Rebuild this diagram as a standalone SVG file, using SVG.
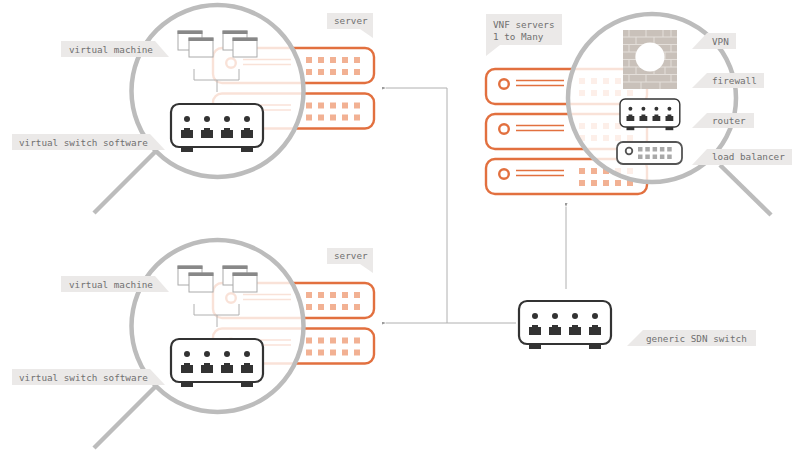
<svg xmlns="http://www.w3.org/2000/svg" width="792" height="455" viewBox="0 0 792 455">
<style>
.lbl{fill:#ebe9e8}
text{font-family:"DejaVu Sans Mono","Liberation Mono",monospace;font-size:9.3px;fill:#707070}
.lens{fill:none;stroke:#bcbcbc;stroke-width:4.5}
.veil{fill:#fff;fill-opacity:.8}
.handle{stroke:#bcbcbc;stroke-width:4.5;fill:none}
.conn{stroke:#b0b0b0;stroke-width:1;fill:none}
.srv{fill:#fff;stroke:#e2703f;stroke-width:2.4}
.sq{fill:#f2b193}
.or{stroke:#e2703f;stroke-width:1.6;fill:none}
.or2{stroke:#e2703f;stroke-width:2.4;fill:#fff}
.win{fill:#fff;stroke:#aaa;stroke-width:1}
.bar{fill:#888}
.sw{fill:#fff;stroke:#333;stroke-width:2.2}
.blk{fill:#333}
</style>
<defs>
<marker id="ah" markerUnits="userSpaceOnUse" markerWidth="4" markerHeight="3" refX="0" refY="1.500" orient="auto"><path d="M4 0L0 1.500L4 3Z" fill="#999"/></marker>
<g id="server">
<rect class="srv" width="161" height="35" rx="9"/>
<circle class="or2" cx="18" cy="15" r="4.800"/>
<path class="or" d="M30 11.500H78M30 16.500H78"/>
<g class="sq"><rect x="93" y="9" width="6" height="6"/><rect x="105" y="9" width="6" height="6"/><rect x="117" y="9" width="6" height="6"/><rect x="129" y="9" width="6" height="6"/><rect x="141" y="9" width="6" height="6"/><rect x="93" y="21" width="6" height="6"/><rect x="105" y="21" width="6" height="6"/><rect x="117" y="21" width="6" height="6"/><rect x="129" y="21" width="6" height="6"/><rect x="141" y="21" width="6" height="6"/></g>
</g>
<g id="switch">
<rect class="blk" x="10" y="40" width="12" height="8"/><rect class="blk" x="70" y="40" width="12" height="8"/>
<rect class="sw" width="92" height="43" rx="8"/>
<g class="blk"><circle cx="16" cy="15" r="3"/><circle cx="36" cy="15" r="3"/><circle cx="56" cy="15" r="3"/><circle cx="76" cy="15" r="3"/>
<path d="M10 26H13V24H19V26H22V34H10Z"/><path d="M30 26H33V24H39V26H42V34H30Z"/><path d="M50 26H53V24H59V26H62V34H50Z"/><path d="M70 26H73V24H79V26H82V34H70Z"/></g>
</g>
<g id="win">
<rect class="win" width="24" height="19"/><rect class="bar" x="-.5" y="-.5" width="25" height="3.500"/>
</g>
<g id="vms">
<use href="#win" x="178" y="31"/><use href="#win" x="189" y="38"/><use href="#win" x="223" y="31"/><use href="#win" x="233" y="38"/>
<path class="conn" d="M194 69V80H239V69M217 80V92"/>
</g>
</defs>

<g id="connectors">
<path class="conn" d="M447 88H386" marker-end="url(#ah)"/>
<path class="conn" d="M447 88V323"/>
<path class="conn" d="M516 323H386" marker-end="url(#ah)"/>
<path class="conn" d="M566 289V207" marker-end="url(#ah)"/>
</g>

<g id="top-servers"><use href="#server" x="213" y="48"/><use href="#server" x="213" y="93.500"/></g>
<g id="bottom-servers"><use href="#server" x="213" y="283"/><use href="#server" x="213" y="328.500"/></g>
<g id="vnf-servers"><use href="#server" x="486" y="69"/><use href="#server" x="486" y="114"/><use href="#server" x="486" y="159"/></g>

<g id="lens-top">
<circle class="veil" cx="217.500" cy="91" r="86"/><circle class="lens" cx="217.500" cy="91" r="86"/>
<path class="handle" d="M156 151L94 213"/>
<use href="#vms"/>
<use href="#switch" x="171" y="104"/>
</g>
<g id="lens-bottom">
<circle class="veil" cx="217.500" cy="326" r="86"/><circle class="lens" cx="217.500" cy="326" r="86"/>
<path class="handle" d="M156 386L94 448"/>
<use href="#vms" y="235"/>
<use href="#switch" x="171" y="339"/>
</g>
<g id="lens-vnf">
<circle class="veil" cx="652" cy="98" r="84"/><circle class="lens" cx="652" cy="98" r="84"/>
<path class="handle" d="M720 165L771 215"/>
</g>

<g id="firewall">
<rect x="623" y="30" width="54" height="59" fill="#c9c1ba"/>
<path stroke="#e4dfda" stroke-width="1" fill="none" d="M623 37H677M623 44.500H677M623 52H677M623 59.500H677M623 67H677M623 74.500H677M623 82H677M629 30V37M646 30V37M663 30V37M671 30V37M636 37V44.500M654 37V44.500M629 44.500V52M671 44.500V52M636 52V59.500M665 52V59.500M629 59.500V67M671 59.500V67M636 67V74.500M654 67V74.500M665 67V74.500M629 74.500V82M646 74.500V82M671 74.500V82M641 82V89M660 82V89"/>
<circle cx="650" cy="57" r="14.500" fill="#fff"/>
</g>
<g id="router"><use href="#switch" transform="translate(620 99) scale(.65)"/></g>
<g id="load-balancer">
<rect x="617" y="142" width="65" height="22" rx="6" fill="#fff" stroke="#555" stroke-width="1.800"/>
<circle cx="629" cy="151" r="3.300" fill="#fff" stroke="#555" stroke-width="1.800"/>
<g fill="#a9a9a9"><rect x="638" y="147" width="4.500" height="4.500"/><rect x="645.300" y="147" width="4.500" height="4.500"/><rect x="652.600" y="147" width="4.500" height="4.500"/><rect x="659.900" y="147" width="4.500" height="4.500"/><rect x="667.200" y="147" width="4.500" height="4.500"/><rect x="638" y="154.500" width="4.500" height="4.500"/><rect x="645.300" y="154.500" width="4.500" height="4.500"/><rect x="652.600" y="154.500" width="4.500" height="4.500"/><rect x="659.900" y="154.500" width="4.500" height="4.500"/><rect x="667.200" y="154.500" width="4.500" height="4.500"/></g>
</g>
<g id="sdn-switch"><use href="#switch" x="519" y="301"/></g>

<g id="labels">
<g id="l-vm1"><polygon class="lbl" points="61,41 155,41 169,57 61,57"/><text x="69" y="52.500">virtual machine</text></g>
<g id="l-vs1"><polygon class="lbl" points="12,134 150,134 165,150 12,150"/><text x="19" y="145.500">virtual switch software</text></g>
<g id="l-s1"><polygon class="lbl" points="327,13 373,13 373,38 360,29 327,29"/><text x="334" y="24">server</text></g>
<g id="l-vm2"><polygon class="lbl" points="61,276 155,276 169,292 61,292"/><text x="69" y="287.500">virtual machine</text></g>
<g id="l-vs2"><polygon class="lbl" points="12,369 150,369 165,385 12,385"/><text x="19" y="380.500">virtual switch software</text></g>
<g id="l-s2"><polygon class="lbl" points="327,248 373,248 373,273 360,264 327,264"/><text x="334" y="259">server</text></g>
<g id="l-vnf"><polygon class="lbl" points="486,14 562,14 562,45 500,45 486,56"/><text x="493" y="28">VNF servers</text><text x="493" y="39.500">1 to Many</text></g>
<g id="l-vpn"><polygon class="lbl" points="692,49 707,33 736,33 736,49"/><text x="712" y="44.500">VPN</text></g>
<g id="l-fw"><polygon class="lbl" points="692,88 707,73 764,73 764,88"/><text x="712" y="84">firewall</text></g>
<g id="l-rt"><polygon class="lbl" points="692,128 707,113 754,113 754,128"/><text x="712" y="124">router</text></g>
<g id="l-lb"><polygon class="lbl" points="692,165 707,149 792,149 792,165"/><text x="712" y="160">load balancer</text></g>
<g id="l-sdn"><polygon class="lbl" points="627,346 643,330 756,330 756,346"/><text x="646" y="341.500">generic SDN switch</text></g>
</g>
</svg>
